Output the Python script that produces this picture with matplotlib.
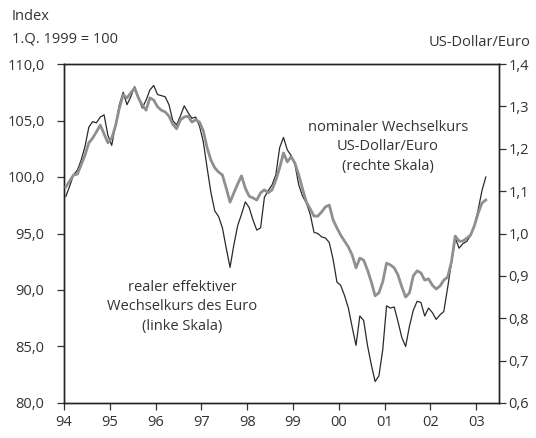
import numpy as np
import pandas as pd
import matplotlib
matplotlib.use("Agg")
import matplotlib.pyplot as plt

# Monthly data, Jan 1994 - Mar 2003
months = pd.period_range("1994-01", "2003-03", freq="M")

# real effective exchange rate of the euro (left scale, index 1.Q.1999 = 100)
real_eff = [
    98.3, 99.2, 100.2, 100.6, 101.5, 102.7, 104.4, 104.9, 104.8, 105.3, 105.5, 103.7,
    102.8, 104.6, 106.4, 107.5, 106.4, 107.1, 108.0, 107.0, 106.1, 106.8, 107.7, 108.1,
    107.3, 107.2, 107.1, 106.4, 105.0, 104.6, 105.4, 106.3, 105.7, 105.2, 105.3, 104.5,
    103.1, 100.8, 98.6, 97.0, 96.5, 95.5, 93.7, 92.0, 94.0, 95.7, 96.7, 97.8,
    97.3, 96.2, 95.3, 95.5, 98.2, 98.8, 99.3, 100.2, 102.6, 103.5, 102.4, 101.9,
    101.1, 99.3, 98.3, 97.7, 96.7, 95.1, 95.0, 94.7, 94.6, 94.2, 92.7, 90.7,
    90.4, 89.5, 88.4, 86.7, 85.1, 87.7, 87.3, 85.1, 83.4, 81.9, 82.4, 84.7,
    88.6, 88.4, 88.5, 87.2, 85.8, 85.0, 86.8, 88.2, 89.0, 88.9, 87.7, 88.4,
    88.0, 87.4, 87.8, 88.1, 90.2, 92.4, 94.6, 93.7, 94.1, 94.3, 94.8, 95.7,
    97.1, 98.8, 100.0,
]

# nominal exchange rate US-Dollar/Euro (right scale)
nominal = [
    1.110, 1.124, 1.138, 1.140, 1.162, 1.185, 1.214, 1.225, 1.240, 1.256, 1.235, 1.214,
    1.225, 1.254, 1.296, 1.327, 1.320, 1.332, 1.343, 1.320, 1.303, 1.291, 1.320, 1.315,
    1.299, 1.291, 1.287, 1.277, 1.258, 1.247, 1.268, 1.275, 1.277, 1.263, 1.268, 1.263,
    1.242, 1.202, 1.173, 1.155, 1.145, 1.138, 1.107, 1.074, 1.096, 1.117, 1.136, 1.107,
    1.088, 1.084, 1.079, 1.096, 1.103, 1.096, 1.103, 1.126, 1.155, 1.190, 1.169, 1.181,
    1.166, 1.138, 1.105, 1.074, 1.058, 1.041, 1.041, 1.051, 1.063, 1.067, 1.032, 1.013,
    0.996, 0.982, 0.968, 0.949, 0.919, 0.942, 0.937, 0.914, 0.886, 0.853, 0.860, 0.886,
    0.930, 0.926, 0.919, 0.902, 0.874, 0.850, 0.860, 0.900, 0.912, 0.907, 0.890, 0.893,
    0.878, 0.869, 0.876, 0.890, 0.897, 0.933, 0.994, 0.982, 0.982, 0.989, 0.996, 1.018,
    1.048, 1.072, 1.079,
]

year_ticks = list(range(1994, 2004))
year_labels = ["94", "95", "96", "97", "98", "99", "00", "01", "02", "03"]
left_ticks = [80, 85, 90, 95, 100, 105, 110]
right_ticks = [0.6, 0.7, 0.8, 0.9, 1.0, 1.1, 1.2, 1.3, 1.4]

FONT = "Open Sans"
TXT = "#333333"
FS = 10.5
plt.rcParams["font.family"] = [FONT, "DejaVu Sans"]

x = np.array([p.year + (p.month - 0.5) / 12 for p in months])

W, H = 536, 438
fig = plt.figure(figsize=(W / 100, H / 100), dpi=100)
ax = fig.add_axes([64 / W, 1 - 403 / H, (498.7 - 64) / W, (403 - 64) / H])
ax2 = ax.twinx()

ax.plot(x, real_eff, color="#2a2a2a", lw=0.9, zorder=2)
ax2.plot(x, nominal, color="#8f8f8f", lw=2.0, zorder=3)

ax.set_xlim(1994, 2003.49)
ax.set_ylim(80, 110)
ax2.set_ylim(0.6, 1.4)

ax.set_xticks(year_ticks)
ax.set_xticklabels(year_labels)
ax.set_yticks(left_ticks)
ax.set_yticklabels([f"{v:.1f}".replace(".", ",") for v in left_ticks])
ax2.set_yticks(right_ticks)
ax2.set_yticklabels([f"{v:.1f}".replace(".", ",") for v in right_ticks])

for a in (ax, ax2):
    a.tick_params(axis="both", direction="out", length=5, width=0.9,
                  color="#333333", labelsize=FS, labelcolor=TXT, pad=4)
    for s in a.spines.values():
        s.set_color("#222222")
        s.set_linewidth(1.0)
ax.tick_params(axis="y", pad=9)
ax2.tick_params(axis="y", pad=2)
ax.tick_params(axis="x", pad=4)

fig.text(12 / W, 1 - 16 / H, "Index", ha="left", va="center", fontsize=FS, color=TXT)
fig.text(12 / W, 1 - 39 / H, "1.Q. 1999 = 100", ha="left", va="center", fontsize=FS, color=TXT)
fig.text(530 / W, 1 - 42 / H, "US-Dollar/Euro", ha="right", va="center", fontsize=FS, color=TXT)

fig.text(388 / W, 1 - 147 / H, "nominaler Wechselkurs\nUS-Dollar/Euro\n(rechte Skala)",
         ha="center", va="center", fontsize=FS, color=TXT, linespacing=1.4)
fig.text(182 / W, 1 - 307 / H, "realer effektiver\nWechselkurs des Euro\n(linke Skala)",
         ha="center", va="center", fontsize=FS, color=TXT, linespacing=1.4)

fig.savefig("out.png", dpi=100, facecolor="white")
